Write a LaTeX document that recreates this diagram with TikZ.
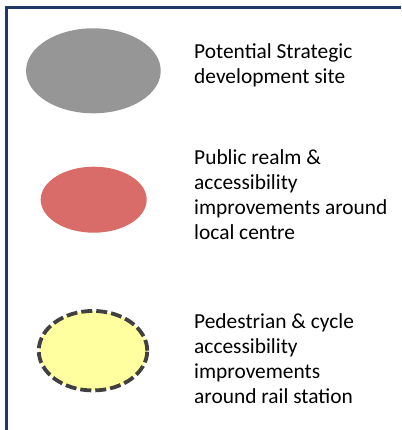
\documentclass[tikz,border=0pt]{standalone}
\usepackage{fontspec}
\setmainfont{Carlito}
\usetikzlibrary{shapes.geometric}

\definecolor{framenavy}{RGB}{31,56,100}
\definecolor{sitegray}{RGB}{150,150,150}
\definecolor{realmred}{RGB}{217,107,105}
\definecolor{railyellow}{RGB}{255,255,160}
\definecolor{dashgray}{RGB}{64,64,64}

\begin{document}
\begin{tikzpicture}[x=1pt,y=-1pt]
      \tikzset{key blob/.style={ellipse,
          inner sep=0pt,
          outer sep=0pt,
          fill=#1},
        key text/.style={anchor=base west,
          align=left,
          inner sep=0pt,
          font=\fontsize{21.4}{25}\selectfont}
      }
      \useasboundingbox (0,0) rectangle (401,430);
      \draw [framenavy, line width=2.6pt] (6.7,430)--(6.7,7.5)--(401,7.5);

      \node [key blob=sitegray, minimum width=134.7pt, minimum height=85pt] (site) at (93.4,70.8) {};
      \node [key blob=realmred, minimum width=106pt, minimum height=66pt] (realm) at (93.7,199.7) {};
      \node [key blob=railyellow, draw=dashgray, line width=3.8pt,
        dash pattern=on 11pt off 4pt,
        minimum width=108.5pt, minimum height=79.5pt] (rail) at (93,350.7) {};

      % base of a multi-line node is its last line
      \node [key text] (site text) at (194,84) {Potential Strategic\\development site};
      \node [key text] (realm text) at (194,239) {Public realm \&\\accessibility\\improvements around\\local centre};
      \node [key text] (rail text) at (194,403) {Pedestrian \& cycle\\accessibility\\improvements\\around rail station};

    \end{tikzpicture}
\end{document}
